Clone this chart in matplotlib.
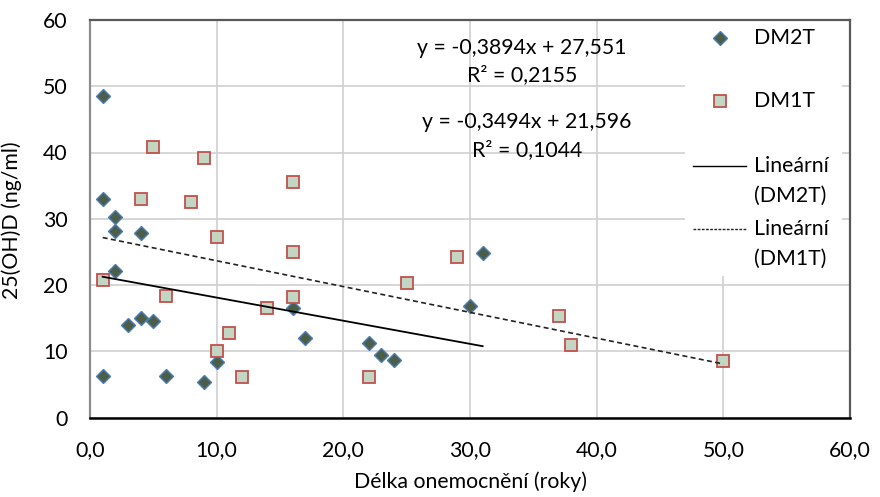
import matplotlib
matplotlib.use("Agg")
import matplotlib.pyplot as plt
from matplotlib.patches import Rectangle
import numpy as np

plt.rcParams['font.family'] = ['Lato', 'DejaVu Sans']

# ---- data ----
dm2t_x = [1, 1, 2, 2, 4, 2, 3, 4, 5, 1, 6, 9, 10, 16, 17, 22, 23, 24, 30, 31]
dm2t_y = [48.6, 33.0, 30.2, 28.1, 27.9, 22.1, 14.0, 15.0, 14.6, 6.3, 6.3, 5.4, 8.4,
          16.5, 12.0, 11.2, 9.5, 8.7, 16.8, 24.8]
dm1t_x = [5, 9, 4, 8, 10, 1, 6, 11, 10, 12, 16, 16, 16, 14, 25, 22, 29, 37, 38, 50]
dm1t_y = [40.8, 39.2, 33.0, 32.5, 27.2, 20.7, 18.4, 12.8, 10.1, 6.15, 35.6, 25.0, 18.2,
          16.6, 20.3, 6.15, 24.25, 15.3, 11.0, 8.5]

# trend line coefficients (as printed on chart)
dm2t_slope, dm2t_intercept, dm2t_r2 = -0.3494, 21.596, 0.1044
dm1t_slope, dm1t_intercept, dm1t_r2 = -0.3894, 27.551, 0.2155

x_ticks = [0, 10, 20, 30, 40, 50, 60]
y_ticks = [0, 10, 20, 30, 40, 50, 60]
series_names = ["DM2T", "DM1T"]
trend_names = ["Lineární\n(DM2T)", "Lineární\n(DM1T)"]
x_label = "Délka onemocnění (roky)"
y_label = "25(OH)D (ng/ml)"

def fmt(v, nd):
    return f"{v:.{nd}f}".replace(".", ",")

# ---- styles ----
DIA_FACE = '#4C5E47'
DIA_EDGE = '#4A7EBB'
SQ_FACE = '#C3D6C3'
SQ_EDGE = '#C0504D'
FS = 15.3

fig = plt.figure(figsize=(8.8, 4.97), dpi=100)
ax = fig.add_axes([90/880, 1-417.5/497, 760/880, 397.5/497])
ax.set_xlim(0, 60)
ax.set_ylim(0, 60)
ax.set_xticks(x_ticks)
ax.set_yticks(y_ticks)
ax.set_xticklabels([fmt(v, 1) for v in x_ticks])
ax.set_yticklabels([str(v) for v in y_ticks])
ax.tick_params(length=0, labelsize=FS, colors='black')
ax.tick_params(axis='x', pad=16)
ax.tick_params(axis='y', pad=16)
ax.grid(True, color='#CFCFCF', lw=1.2, zorder=0)
ax.set_axisbelow(True)

ax.spines['top'].set_color('#595959'); ax.spines['top'].set_linewidth(1.6)
ax.spines['right'].set_color('#595959'); ax.spines['right'].set_linewidth(1.6)
ax.spines['left'].set_color('#8C8C8C'); ax.spines['left'].set_linewidth(1.6)
ax.spines['bottom'].set_color('black'); ax.spines['bottom'].set_linewidth(1.8)

# scatter
ax.plot(dm2t_x, dm2t_y, ls='none', marker='D', ms=7.6, mfc=DIA_FACE, mec=DIA_EDGE,
        mew=1.0, zorder=3)
ax.plot(dm1t_x, dm1t_y, ls='none', marker='s', ms=9.3, mfc=SQ_FACE, mec=SQ_EDGE,
        mew=1.3, zorder=3)

# trend lines
tx2 = np.array([min(dm2t_x), max(dm2t_x)], dtype=float)
ax.plot(tx2, dm2t_slope*tx2 + dm2t_intercept, color='black', lw=1.3, zorder=4)
tx1 = np.array([min(dm1t_x), max(dm1t_x)], dtype=float)
ax.plot(tx1, dm1t_slope*tx1 + dm1t_intercept, color='#222222', lw=1.2,
        ls=(0, (3, 2)), zorder=4)

# equations
ax.text(34.1, 55.8, f"y = {fmt(dm1t_slope,4)}x + {fmt(dm1t_intercept,3)}", ha='center', va='center', fontsize=FS)
ax.text(34.1, 51.7, f"R² = {fmt(dm1t_r2,4)}", ha='center', va='center', fontsize=FS)
ax.text(34.5, 44.6, f"y = {fmt(dm2t_slope,4)}x + {fmt(dm2t_intercept,3)}", ha='center', va='center', fontsize=FS)
ax.text(34.5, 40.4, f"R² = {fmt(dm2t_r2,4)}", ha='center', va='center', fontsize=FS)

# legend (Excel-like, inside plot area)
T = ax.transAxes
ax.add_patch(Rectangle((0.783, 0.356), 0.206, 0.644, transform=T, facecolor='white',
                       edgecolor='none', zorder=2))
ax.plot([0.829], [0.955], transform=T, marker='D', ms=7.6, mfc=DIA_FACE, mec=DIA_EDGE,
        mew=1.0, ls='none', zorder=5, clip_on=False)
ax.plot([0.829], [0.796], transform=T, marker='s', ms=9.3, mfc=SQ_FACE, mec=SQ_EDGE,
        mew=1.3, ls='none', zorder=5, clip_on=False)
ax.plot([0.793, 0.863], [0.633, 0.633], transform=T, color='black', lw=1.0, zorder=5)
ax.plot([0.793, 0.863], [0.474, 0.474], transform=T, color='#222222', lw=1.0,
        ls=(0, (2, 1)), zorder=5)
lx = 0.874
ax.text(lx, 0.955, series_names[0], transform=T, va='center', ha='left', fontsize=FS, zorder=6)
ax.text(lx, 0.796, series_names[1], transform=T, va='center', ha='left', fontsize=FS, zorder=6)
l1, l2 = trend_names[0].split("\n")
ax.text(lx, 0.633, l1, transform=T, va='center', ha='left', fontsize=FS, zorder=6)
ax.text(lx, 0.557, l2, transform=T, va='center', ha='left', fontsize=FS, zorder=6)
l1, l2 = trend_names[1].split("\n")
ax.text(lx, 0.474, l1, transform=T, va='center', ha='left', fontsize=FS, zorder=6)
ax.text(lx, 0.399, l2, transform=T, va='center', ha='left', fontsize=FS, zorder=6)

fig.text(470/880, 1-482/497, x_label, ha='center', va='center', fontsize=FS)
fig.text(12/880, 1-220/497, y_label, ha='center', va='center', rotation=90, fontsize=FS)

fig.savefig("out.png", dpi=100)
